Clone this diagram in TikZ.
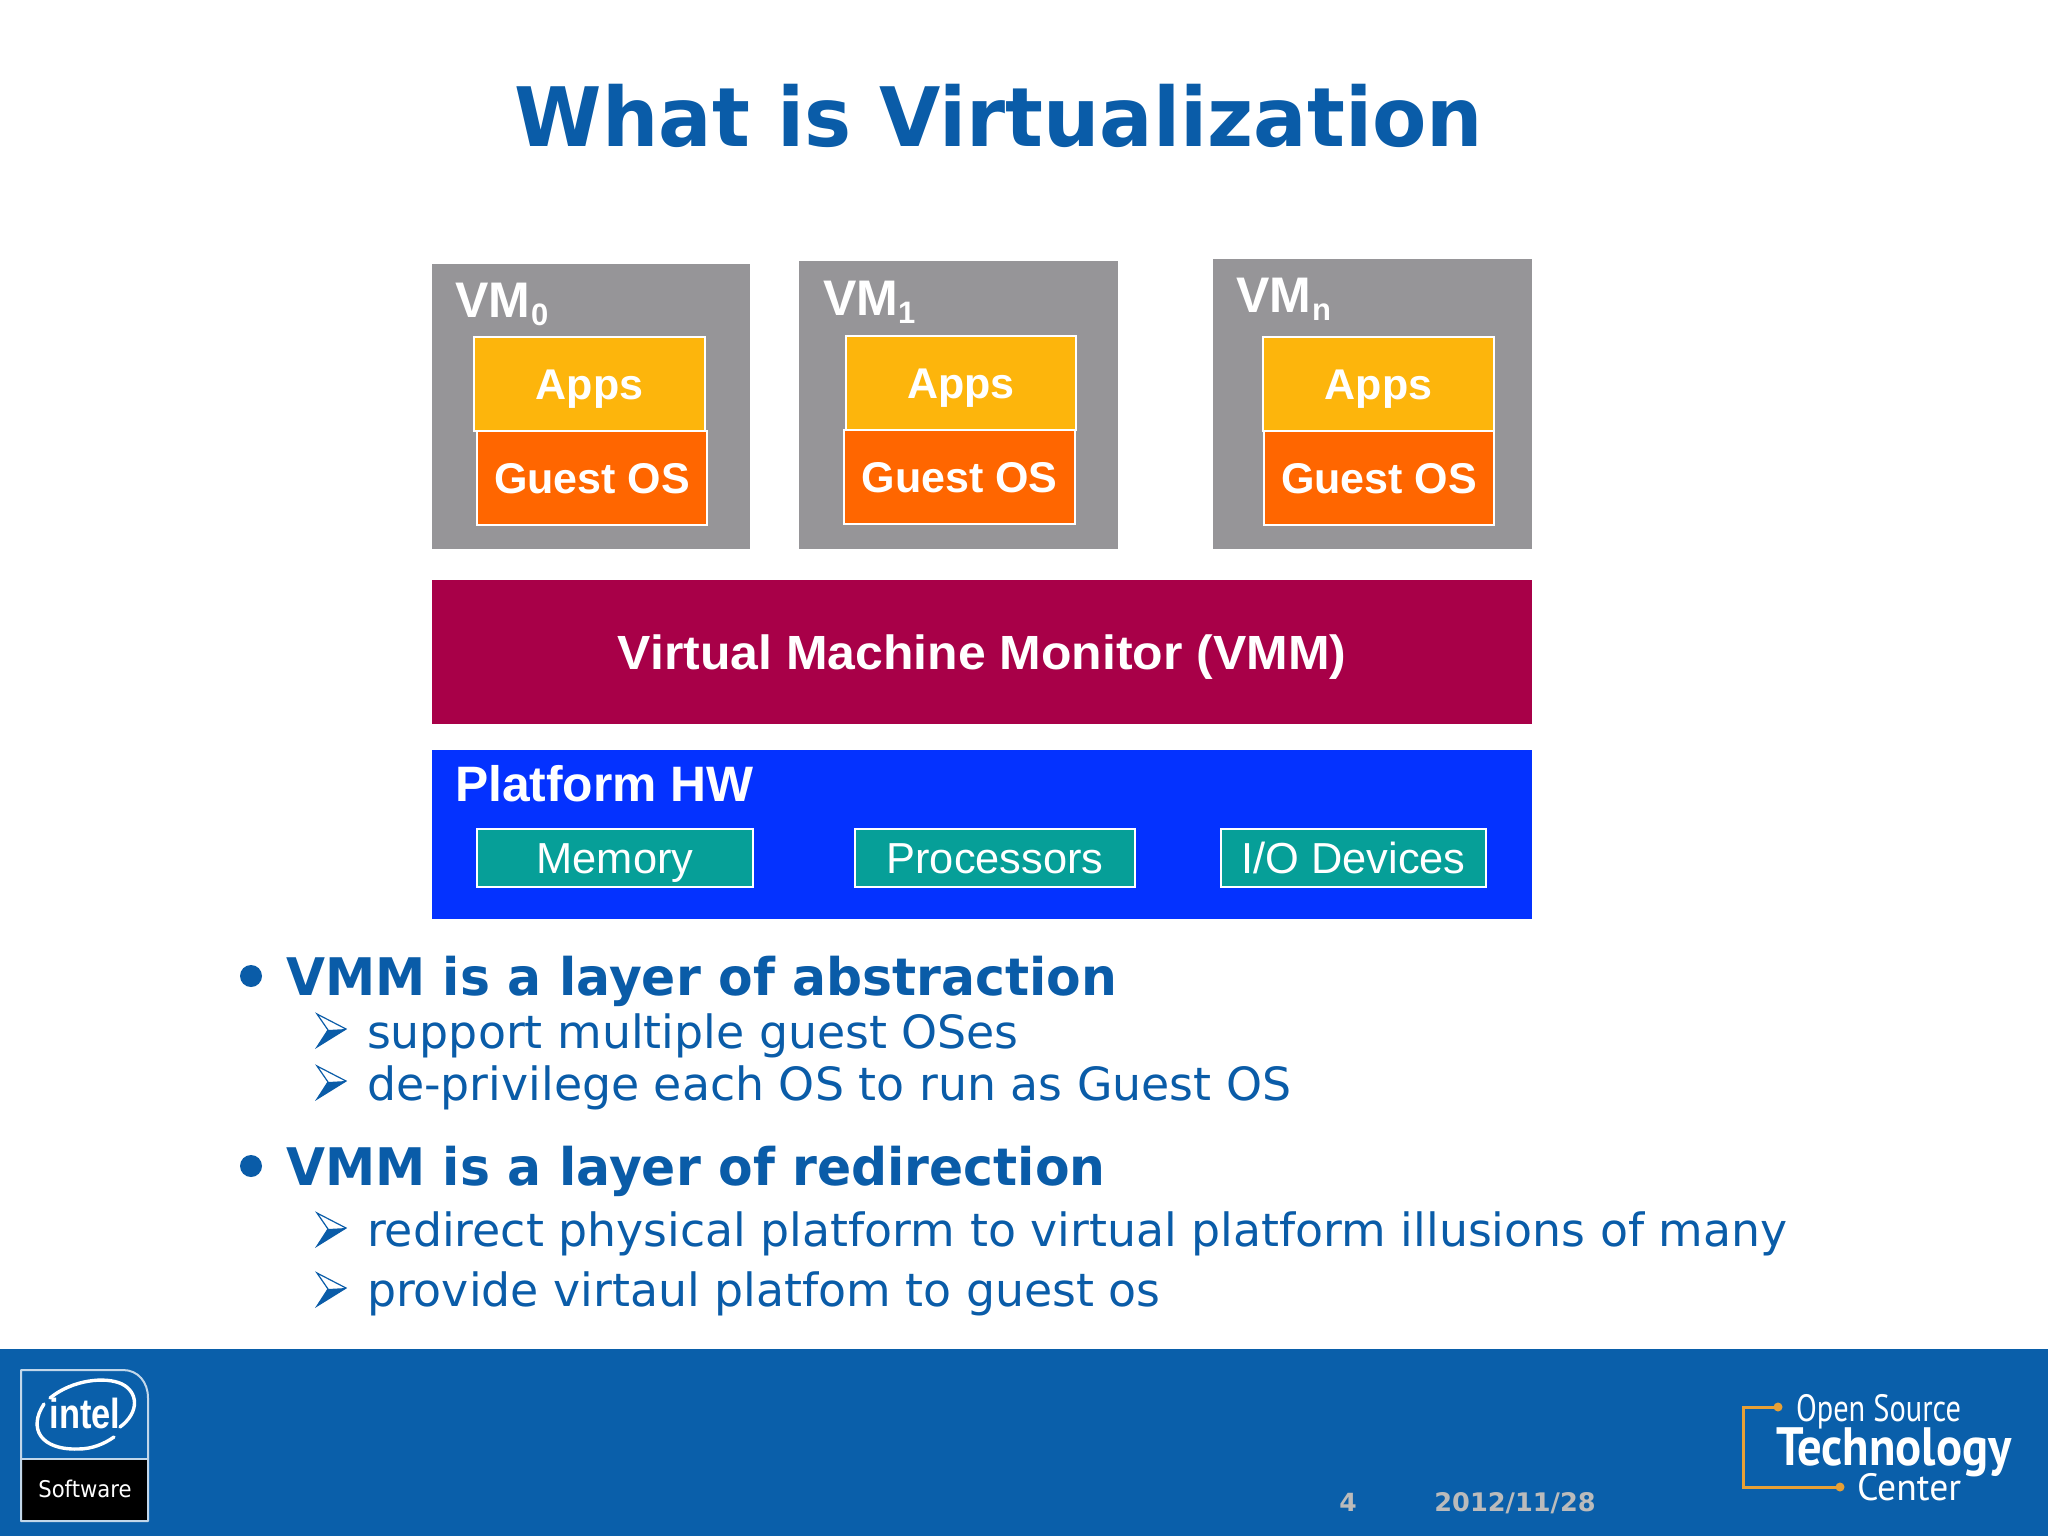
\documentclass[tikz,border=0pt]{standalone}
\usepackage{fontspec}
\setmainfont{Liberation Sans}
\newfontfamily\ds{DejaVu Sans}
\newfontfamily\ls{Liberation Sans}
\newfontfamily\pt{PT Sans}
\definecolor{ttl}{HTML}{0A5CA8}
\definecolor{foot}{HTML}{0A5FAA}
\definecolor{vmg}{HTML}{969598}
\definecolor{apps}{HTML}{FDB50C}
\definecolor{gos}{HTML}{FF6600}
\definecolor{vmm}{HTML}{A80048}
\definecolor{hw}{HTML}{0432FF}
\definecolor{teal2}{HTML}{069F98}
\definecolor{brk}{HTML}{E8A035}
\definecolor{dategrey}{HTML}{BBBBBB}
\newcommand{\fsz}[1]{\fontsize{#1}{#1}\selectfont}
\tikzset{
  x=0.5pt,y=-0.5pt,
  every node/.style={inner sep=0pt,outer sep=0pt},
  vmbox/.style={fill=vmg},
  appsbox/.style={fill=apps,draw=white,line width=1.2pt},
  gosbox/.style={fill=gos,draw=white,line width=1.2pt},
  hwitem/.style={fill=teal2,draw=white,line width=1.2pt},
  lab/.style={text=white,font=\ls\bfseries\fsz{21.5},text height=15.4pt,text depth=0pt},
  vmmlab/.style={text=white,font=\ls\bfseries\fsz{24},text height=17.2pt,text depth=0pt},
  vmlab/.style={anchor=base west,text=white,font=\ls\bfseries\fsz{25}},
  vmsub/.style={anchor=base west,text=white,font=\ls\bfseries\fsz{15.5}},
  itemlab/.style={text=white,font=\ls\fsz{21.7},text height=15.5pt,text depth=0pt},
  head/.style={anchor=base west,text=ttl,font=\ds\bfseries\fsz{25.9}},
  sub/.style={anchor=base west,text=ttl,font=\ds\fsz{22.9}},
  dot/.style={fill=ttl},
  pics/chev/.style={code={
    \fill[ttl] (0,33) -- (29,15) -- (11,16) -- cycle;
    \draw[ttl,line width=0.6pt,line join=miter] (0,0) -- (29,15) -- (0,33) -- (11,16) -- cycle;
  }}
}
\begin{document}
\begin{tikzpicture}
\useasboundingbox (0,0) rectangle (2048,1536);
\fill[white] (0,0) rectangle (2048,1536);
\node[anchor=base,text=ttl,font=\ds\bfseries\fsz{41}] (title) at (999,146) {\scalebox{0.966}[1]{What is Virtualization}};

% VM 0
\fill[vmbox] (432,264) rectangle (750,549);
\node[vmlab] (vm0) at (455,317) {VM};
\node[vmsub] (vm0s) at (531,325) {0};
\path[appsbox] (474,337) rectangle (705,431) node[midway,lab] (a0) {Apps};
\path[gosbox] (477,431) rectangle (707,525) node[midway,lab] (g0) {Guest OS};
% VM 1
\fill[vmbox] (799,261) rectangle (1118,549);
\node[vmlab] (vm1) at (823,315) {VM};
\node[vmsub] (vm1s) at (898,323) {1};
\path[appsbox] (846,336) rectangle (1076,430) node[midway,lab] (a1) {Apps};
\path[gosbox] (844,430) rectangle (1075,524) node[midway,lab] (g1) {Guest OS};
% VM n
\fill[vmbox] (1213,259) rectangle (1532,549);
\node[vmlab] (vmn) at (1236,312) {VM};
\node[vmsub] (vmns) at (1312,320) {n};
\path[appsbox] (1263,337) rectangle (1494,431) node[midway,lab] (an) {Apps};
\path[gosbox] (1264,431) rectangle (1494,525) node[midway,lab] (gn) {Guest OS};

% VMM
\path[fill=vmm] (432,580) rectangle (1532,724) node[midway,vmmlab] (vmmt) {\scalebox{1.04}[1]{Virtual Machine Monitor (VMM)}};
% HW
\fill[hw] (432,750) rectangle (1532,919);
\node[anchor=base west,text=white,font=\ls\bfseries\fsz{24.9}] (hwt) at (455,801) {Platform HW};
\path[hwitem] (477,829) rectangle (753,887) node[midway,itemlab] (mem) {Memory};
\path[hwitem] (855,829) rectangle (1135,887) node[midway,itemlab] (proc) {Processors};
\path[hwitem] (1221,829) rectangle (1486,887) node[midway,itemlab] (io) {I/O Devices};

% bullets
\fill[dot] (251,976) circle (11);
\node[head] (h1) at (286,995) {\scalebox{0.973}[1]{VMM is a layer of abstraction}};
\path (317,1014) pic {chev};
\node[sub] (s1) at (367,1048) {support multiple guest OSes};
\path (317,1066) pic {chev};
\node[sub] (s2) at (367,1100) {de-privilege each OS to run as Guest OS};
\fill[dot] (251,1166) circle (11);
\node[head] (h2) at (286,1185) {\scalebox{0.973}[1]{VMM is a layer of redirection}};
\path (317,1213) pic {chev};
\node[sub] (s3) at (367,1246) {redirect physical platform to virtual platform illusions of many};
\path (317,1273) pic {chev};
\node[sub] (s4) at (367,1306) {provide virtaul platfom to guest os};

% footer
\fill[foot] (0,1349) rectangle (2048,1536);
\node[anchor=base,text=dategrey,font=\ds\bfseries\fsz{12.5}] (pg) at (1348,1511) {4};
\node[anchor=base,text=dategrey,font=\ds\bfseries\fsz{12.8}] (dt) at (1515,1511) {2012/11/28};

% Intel logo
\fill[black] (22,1460) rectangle (148,1520);
\draw[white!75!foot,line width=1pt,line join=round] (21,1370) -- (123,1370) .. controls (138,1370) and (148,1382) .. (148,1398) -- (148,1521) -- (21,1521) -- cycle;
\draw[white!75!foot,line width=1pt] (21,1459) -- (148,1459);
\node[anchor=base,text=white,font=\ds\fsz{11.5}] (soft) at (85,1497) {\scalebox{0.92}[1]{Software}};
\node[anchor=base,text=white,font=\ls\bfseries\fsz{21}] (intel) at (85,1428) {\scalebox{0.82}[1]{intel}};
\draw[white,line width=1.7pt,line cap=round] (50,1398) .. controls (72,1380) and (105,1376) .. (122,1384) .. controls (138,1392) and (140,1412) .. (120,1427);
\draw[white,line width=1.7pt,line cap=round] (44,1404) .. controls (28,1428) and (40,1450) .. (78,1449) .. controls (92,1449) and (104,1444) .. (114,1437);

% OSTC logo
\draw[brk,line width=1.5pt] (1778,1407) -- (1743,1407) -- (1743,1487) -- (1840,1487);
\fill[brk] (1778,1407) circle (4.5);
\fill[brk] (1840,1487) circle (4.5);
\node[anchor=base west,text=white,font=\pt\fsz{19}] (oss) at (1796,1421) {\scalebox{0.8}[1]{Open Source}};
\node[anchor=base west,text=white,font=\pt\bfseries\fsz{27}] (tech) at (1776,1465) {\scalebox{0.9}[1]{Technology}};
\node[anchor=base west,text=white,font=\pt\fsz{19}] (cent) at (1857,1500) {\scalebox{0.99}[1]{Center}};
\end{tikzpicture}
\end{document}
